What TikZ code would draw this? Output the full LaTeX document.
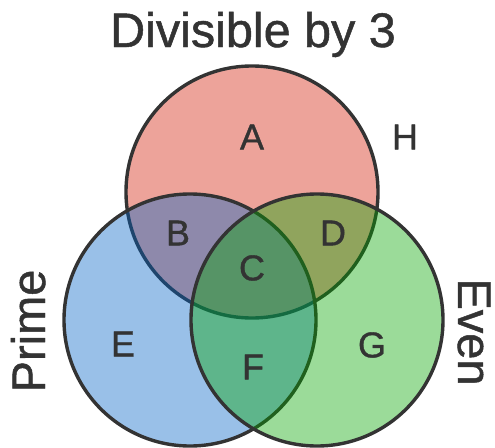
\documentclass[tikz,border=0pt]{standalone}
\usepackage{fontspec}
\setmainfont{Liberation Sans}
\newfontfamily\heavysans[FakeBold=1]{Liberation Sans}
\definecolor{ink}{HTML}{333333}
\definecolor{setred}{RGB}{210,25,3}
\definecolor{setblue}{RGB}{0,97,197}
\definecolor{setgreen}{RGB}{5,165,0}
\begin{document}
\begin{tikzpicture}[x=1pt,y=-1pt,
  setcircle/.style={draw=ink, line width=3.4pt, fill opacity=0.4},
  region/.style={text=ink, font=\heavysans\fontsize{36}{36}\selectfont, inner sep=0pt},
  setlabel/.style={text=ink, font=\heavysans\fontsize{47}{47}\selectfont, inner sep=0pt, anchor=base}]
\useasboundingbox (0,0) rectangle (495,447);
\coordinate (cr) at (252,192);
\coordinate (cb) at (190,320);
\coordinate (cg) at (317,320);
\draw[setcircle, fill=setred] (cr) circle (126);
\draw[setcircle, fill=setblue] (cb) circle (126);
\draw[setcircle, fill=setgreen] (cg) circle (126);
\node[setlabel, font=\heavysans\fontsize{48.5}{48.5}\selectfont] (t3) at (253,47) {Divisible by 3};
\node[setlabel, rotate=90] (tp) at (45,331) {Prime};
\node[setlabel, rotate=-90] (te) at (458,332) {Even};
\node[region] (A) at (252,137) {A};
\node[region] (H) at (405,137) {H};
\node[region] (B) at (178,233) {B};
\node[region] (C) at (252,268) {C};
\node[region] (D) at (333,233) {D};
\node[region] (E) at (123,344) {E};
\node[region] (F) at (253,367) {F};
\node[region] (G) at (372,345) {G};
\end{tikzpicture}
\end{document}
